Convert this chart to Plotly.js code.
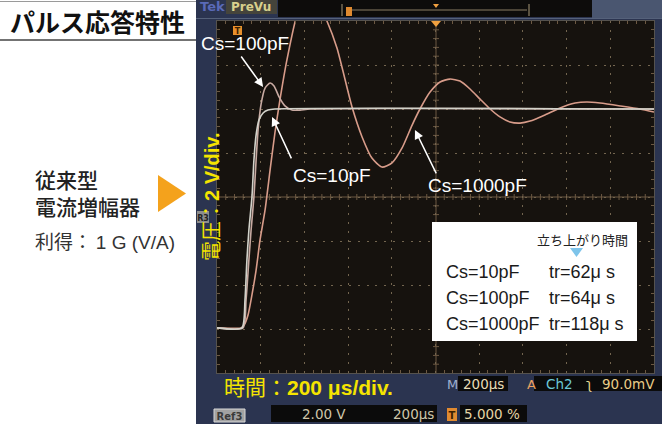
<!DOCTYPE html>
<html><head><meta charset="utf-8">
<script src="https://cdn.plot.ly/plotly-3.0.1.min.js"></script>
<style>html,body{margin:0;padding:0;background:#fff;overflow:hidden}#chart{width:662px;height:424px}</style>
</head><body><div id="chart"></div>
<script>
const t10 = [0,114,128,137,146,160,169,179,192,211,233,265,2000];
const v10 = [-5.95,-5.95,-4.68,-2.86,-1.5,0,1.68,2.82,3.5,3.82,3.95,4.0,4.0];
const t100 = [0,119,133,146,156,169,179,188,201,220,243,261,284,311,343,380,426,2000];
const v100 = [-5.95,-5.95,-4.68,-2.86,-1.5,0,1.68,3.05,4.18,4.95,5.18,5.05,4.55,4.14,3.95,3.95,4.0,4.0];
const t1000 = [0,110,124,142,160,179,197,220,243,265,288,320,366,426,503,549,618,664,709,755,801,847,893,929,975,1021,1066,1112,1158,1204,1250,1295,1341,1387,1433,1501,1570,1639,1693,1753,1845,1936,2000];
const v1000 = [-5.95,-5.95,-5.82,-5.36,-4.45,-3.32,-1.95,-0.59,1.23,2.91,4.41,6.23,8.27,9.5,8.0,6.77,4.09,2.73,1.77,1.36,1.55,2.23,3.27,4.0,4.77,5.23,5.36,5.27,4.91,4.45,4.0,3.64,3.41,3.36,3.45,3.73,4.05,4.27,4.32,4.27,4.14,4.0,3.86];
const seriesNames = ["Cs=10pF","Cs=100pF","Cs=1000pF"];
const riseTimes = ["tr=62μ s","tr=64μ s","tr=118μ s"];
const arrowTips = [[252,3.64],[211,5.0],[906,3.05]];

const L=217,R=654,T=21,B=373,W=R-L,H=B-T;
const X=p=>(p-L)/W, Y=p=>(B-p)/H;
const JP="Noto Sans CJK JP", SANS="Liberation Sans, Arial, sans-serif", SCOPE="DejaVu Sans, sans-serif";

function rect(x0,y0,x1,y1,fill,layer,line,label){const s={type:'rect',xref:'paper',yref:'paper',x0:X(x0),x1:X(x1),y0:Y(y1),y1:Y(y0),fillcolor:fill,line:line||{width:0},layer:layer||'below'}; if(label) s.label=label; return s;}
function seg(x0,y0,x1,y1,color,w,layer){return {type:'line',xref:'paper',yref:'paper',x0:X(x0),x1:X(x1),y0:Y(y0),y1:Y(y1),line:{color:color,width:w||1},layer:layer||'below'};}
function tri(pts,fill,layer){return {type:'path',xref:'paper',yref:'paper',path:'M'+pts.map(p=>X(p[0])+','+Y(p[1])).join(' L')+' Z',fillcolor:fill,line:{width:0},layer:layer||'below'};}
function txt(s,x,y,size,color,fam,opts){return Object.assign({text:s,xref:'paper',yref:'paper',x:X(x),y:Y(y),xanchor:'left',yanchor:'middle',showarrow:false,font:{size:size,color:color,family:fam}},opts||{});}
const lab=(s,size,color)=>({text:s,font:{size:size,color:color,family:SCOPE,weight:'bold'},textposition:'middle center'});

const shapes=[
  rect(196,-2,664,426,'#2b3450'),
  rect(592,-2,664,18,'#4a5670'),
  rect(278,-2,592,17,'#0d0c0b'),
  rect(226,0,277,14,'#45443b'),
  seg(196,18.5,664,18.5,'#55617a',1),
  rect(L,T,R,B,'#16120e'),
  seg(342,4,342,16,'#a89878',1), seg(529,4,529,16,'#a89878',1),
  seg(352,10,527,10,'#8a7c64',1),
  rect(346,7,352,16,'#e08a30'),
  tri([[433,4],[439,4],[436,8]],'#f0a040'),
  seg(436,T,436,B,'#6c5842',1), seg(L,197,R,197,'#6c5842',1),
  // left panel
  seg(0,1.5,196,1.5,'#9a9a9a',1), seg(0,40,196,40,'#444',1.3),
  tri([[158,175],[158,212],[186,193.5]],'#f4a21c'),
  // status boxes
  rect(458,376,508,391,'#0b0b0b'), rect(534,376,664,391,'#0b0b0b'),
  rect(214,409,245,422,'#a2a2a2','below',{color:'#d8d8d8',width:1},lab('Ref3',10,'#3a3a3a')),
  rect(271,405,437,422,'#0b0b0b'), rect(460,405,527,422,'#0b0b0b'),
  rect(447,408,457,421,'#e08a30','below',null,lab('T',10,'#3a2000')),
  rect(197,211,209,223,'#8c8c8c','below',null,lab('R3',8,'#222')),
  // overlays on screen
  tri([[431,21],[441,21],[436,27]],'#f0a040','above'),
  rect(233,26,242,35,'#e8902c','above',null,lab('T',8,'#3a2000')),
  rect(432,222,637,341,'#ffffff','above'),
  tri([[570,248],[583,248],[576.5,257]],'#7ec4ea','above')
];
// center-line tick marks (every 1/5 division)
for(let i=1;i<50;i++){const px=L+W*i/50; shapes.push(seg(px,194,px,200,'#6c5842',1));}
for(let j=1;j<40;j++){const py=T+H*j/40; shapes.push(seg(433,py,439,py,'#6c5842',1));}

const traces=[
  {x:t1000,y:v1000,name:seriesNames[2],mode:'lines',line:{color:'#d89c8a',width:1.6,shape:'spline',smoothing:0.6}},
  {x:t100,y:v100,name:seriesNames[1],mode:'lines',line:{color:'#c8aaa2',width:1.6,shape:'spline',smoothing:0.6}},
  {x:t10,y:v10,name:seriesNames[0],mode:'lines',line:{color:'#d2d2ca',width:1.6,shape:'spline',smoothing:0.6}}
];

const ann=[
  txt('<b>パルス応答特性</b>',8,21,25,'#111',JP),
  txt('従来型<br>電流増幅器',33,192.5,21,'#222',JP,{align:'left',font:{size:21,color:'#222',family:JP,weight:500}}),
  txt('利得：\u20091 G (V/A)',33,242,19,'#333',SANS+', '+JP),
  txt('Tek',198,7,13,'#5a6ab8',SCOPE,{font:{size:13,color:'#5a6ab8',family:SCOPE,weight:'bold'}}),
  txt('PreVu',229,7,12,'#d8d08c',SCOPE,{font:{size:12,color:'#d8d08c',family:SCOPE,weight:'bold'}}),
  txt('電圧：<b>2 V/div.</b>',212,197,20,'#f5e400',SANS+', '+JP,{textangle:-90,xanchor:'center'}),
  txt('時間：<b>200 μs/div.</b>',222,387,21,'#f5e400',SANS+', '+JP),
  txt(seriesNames[1],199,44,19,'#ffffff',SANS),
  txt(seriesNames[0],291,175,19,'#ffffff',SANS),
  txt(seriesNames[2],426,185,19,'#ffffff',SANS),
  txt('立ち上がり時間',535,239,13,'#222',JP),
  txt('M',445,384,13,'#9fb0d0',SCOPE),
  txt('200μs',461,384,13.5,'#e8dcb8',SCOPE),
  txt('A',525,384,13,'#e8a060',SCOPE),
  txt('Ch2',544,384,13.5,'#6cc8d8',SCOPE),
  txt('ʅ',584,384,13.5,'#e8d890',SCOPE),
  txt('90.0mV',600,384,13.5,'#e8cc88',SCOPE),
  txt('2.00 V',300,413.5,13.5,'#cfc6aa',SCOPE),
  txt('200μs',391,413.5,13.5,'#cfc6aa',SCOPE),
  txt('5.000 %',462,413.5,13.5,'#e6d6a6',SCOPE)
];
const rowY=[272,298,324];
for(let i=0;i<3;i++){
  ann.push(txt(seriesNames[i],444,rowY[i],18,'#1a1a1a',SANS));
  ann.push(txt(riseTimes[i],547,rowY[i],18,'#1a1a1a',SANS));
}
const arrowOff=[[20,43],[-23,-32],[22,45]];
for(let i=0;i<3;i++){
  ann.push({x:arrowTips[i][0],y:arrowTips[i][1],xref:'x',yref:'y',text:'',showarrow:true,ax:arrowOff[i][0],ay:arrowOff[i][1],arrowcolor:'#ffffff',arrowwidth:1.5,arrowhead:2,arrowsize:1.2,standoff:0});
}

const grid={showgrid:true,gridcolor:'#73654f',gridwidth:1,zeroline:false,showticklabels:false,ticks:'',showline:true,linecolor:'#55524e',linewidth:1,mirror:'ticks',fixedrange:true};
const layout={
  width:662,height:424,margin:{l:L,r:662-R,t:T,b:424-B},
  paper_bgcolor:'#ffffff',plot_bgcolor:'rgba(0,0,0,0)',showlegend:false,
  xaxis:Object.assign({},grid,{range:[0,2000],dtick:200,tick0:0,griddash:'2px,6.74px',minor:{ticks:'inside',dtick:40,tick0:0,ticklen:3,tickcolor:'#6c5842',showgrid:false}}),
  yaxis:Object.assign({},grid,{range:[-8,8],dtick:2,tick0:0,griddash:'2px,6.8px',minor:{ticks:'inside',dtick:0.4,tick0:0,ticklen:3,tickcolor:'#6c5842',showgrid:false}}),
  shapes:shapes,annotations:ann
};
Plotly.newPlot('chart',traces,layout,{displayModeBar:false,staticPlot:true});
</script></body></html>
